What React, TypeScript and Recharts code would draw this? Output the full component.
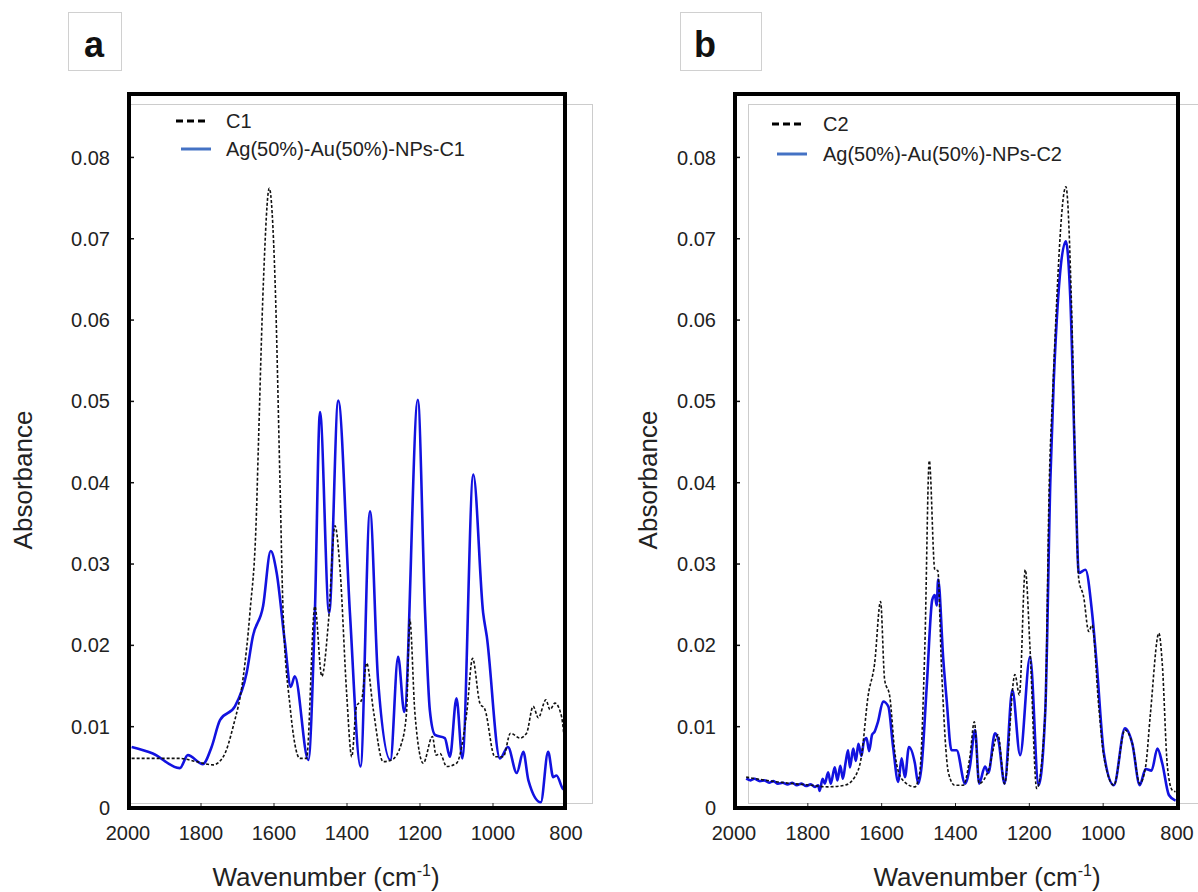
import React from 'react';
import { LineChart, Line, XAxis, YAxis } from 'recharts';

// axis ticks
const WN_TICKS = [2000, 1800, 1600, 1400, 1200, 1000, 800];
const ABS_TICKS = [0, 0.01, 0.02, 0.03, 0.04, 0.05, 0.06, 0.07, 0.08];

// panel a: C1 (dashed)
const c1Wn = [1990, 1858, 1812, 1767, 1739, 1712, 1684, 1666, 1648, 1643, 1629, 1613, 1597, 1584, 1575, 1556, 1529, 1511, 1488, 1469, 1451, 1433, 1419, 1401, 1387, 1374, 1360, 1346, 1328, 1301, 1278, 1251, 1237, 1228, 1214, 1191, 1166, 1156, 1145, 1127, 1100, 1072, 1056, 1036, 1022, 995, 972, 952, 926, 908, 890, 876, 855, 844, 830, 812, 803];
const c1Abs = [0.0061, 0.0061, 0.0057, 0.0053, 0.0063, 0.01, 0.0162, 0.024, 0.0364, 0.0442, 0.0647, 0.0762, 0.0647, 0.0408, 0.024, 0.0125, 0.0061, 0.0061, 0.0248, 0.0162, 0.0228, 0.0347, 0.0293, 0.0141, 0.0063, 0.0125, 0.0133, 0.0178, 0.0121, 0.0057, 0.0059, 0.0079, 0.0117, 0.0232, 0.0117, 0.0055, 0.0088, 0.0065, 0.0067, 0.0051, 0.0055, 0.0117, 0.0184, 0.0129, 0.0121, 0.0063, 0.0063, 0.0092, 0.0086, 0.0092, 0.0125, 0.0111, 0.0133, 0.0121, 0.0129, 0.0112, 0.0075];

// panel a: Ag(50%)-Au(50%)-NPs-C1
const np1Wn = [1990, 1932, 1858, 1836, 1795, 1771, 1748, 1707, 1675, 1658, 1630, 1609, 1593, 1570, 1554, 1543, 1506, 1488, 1474, 1449, 1424, 1392, 1363, 1337, 1315, 1281, 1260, 1243, 1206, 1186, 1173, 1159, 1132, 1118, 1100, 1084, 1054, 1027, 1017, 981, 959, 935, 917, 903, 869, 849, 835, 826, 809, 801];
const np1Abs = [0.0075, 0.0067, 0.0049, 0.0065, 0.0054, 0.0075, 0.0108, 0.0125, 0.0166, 0.0211, 0.0248, 0.0316, 0.029, 0.0203, 0.0149, 0.0162, 0.0059, 0.024, 0.0487, 0.024, 0.0501, 0.024, 0.0051, 0.0365, 0.0158, 0.0059, 0.0186, 0.0118, 0.0502, 0.024, 0.012, 0.009, 0.0086, 0.0063, 0.0135, 0.0061, 0.041, 0.024, 0.0211, 0.0061, 0.0075, 0.0043, 0.0069, 0.0034, 0.0007, 0.0069, 0.0038, 0.004, 0.0024, 0.0022];

// panel b: C2 (dashed)
const c2Wn = [1967, 1881, 1791, 1746, 1700, 1673, 1655, 1637, 1619, 1603, 1592, 1578, 1564, 1546, 1510, 1497, 1483, 1471, 1456, 1448, 1438, 1419, 1402, 1379, 1361, 1349, 1336, 1311, 1285, 1267, 1239, 1227, 1211, 1198, 1180, 1157, 1146, 1137, 1101, 1085, 1075, 1066, 1053, 1039, 1030, 1012, 998, 971, 941, 921, 901, 885, 872, 849, 840, 826, 813, 804];
const c2Abs = [0.0038, 0.0032, 0.0028, 0.0026, 0.0028, 0.0038, 0.0063, 0.0137, 0.0178, 0.0254, 0.0158, 0.0137, 0.0067, 0.0036, 0.0026, 0.0043, 0.0199, 0.0427, 0.0293, 0.0292, 0.0174, 0.0043, 0.0028, 0.0028, 0.0063, 0.0106, 0.003, 0.0046, 0.009, 0.003, 0.0164, 0.0139, 0.0293, 0.0195, 0.0024, 0.0117, 0.04, 0.0507, 0.0764, 0.0606, 0.0404, 0.0281, 0.026, 0.0217, 0.0225, 0.0125, 0.0063, 0.0028, 0.0096, 0.0079, 0.003, 0.0051, 0.0116, 0.0215, 0.0178, 0.0051, 0.0022, 0.002];

// panel b: Ag(50%)-Au(50%)-NPs-C2 (noisy below 1780)
const np2Wn = [1967, 1955, 1945, 1930, 1918, 1905, 1893, 1881, 1868, 1855, 1842, 1830, 1817, 1805, 1792, 1780, 1772, 1768, 1760, 1754, 1745, 1738, 1727, 1720, 1712, 1705, 1698, 1691, 1686, 1677, 1670, 1663, 1655, 1648, 1641, 1634, 1626, 1619, 1610, 1596, 1582, 1569, 1555, 1546, 1537, 1526, 1510, 1501, 1492, 1478, 1463, 1456, 1451, 1447, 1433, 1424, 1411, 1397, 1374, 1361, 1347, 1336, 1320, 1311, 1293, 1284, 1267, 1246, 1225, 1198, 1175, 1157, 1143, 1134, 1101, 1089, 1075, 1066, 1048, 1030, 1017, 998, 971, 941, 921, 901, 885, 869, 853, 840, 822, 804];
const np2Abs = [0.0036, 0.0034, 0.0036, 0.0033, 0.0034, 0.0031, 0.0033, 0.003, 0.0031, 0.0029, 0.0031, 0.0028, 0.003, 0.0027, 0.0029, 0.0026, 0.0028, 0.0021, 0.0036, 0.003, 0.0044, 0.003, 0.005, 0.0034, 0.0052, 0.0036, 0.0055, 0.0071, 0.005, 0.0073, 0.0058, 0.0079, 0.0064, 0.0082, 0.0086, 0.007, 0.009, 0.0094, 0.0106, 0.0131, 0.0125, 0.0075, 0.0032, 0.0061, 0.0038, 0.0075, 0.0055, 0.003, 0.0051, 0.0149, 0.0256, 0.0262, 0.0249, 0.0281, 0.0182, 0.0133, 0.0071, 0.0071, 0.003, 0.0051, 0.0096, 0.003, 0.0051, 0.0043, 0.0092, 0.0084, 0.003, 0.0145, 0.0065, 0.0186, 0.0028, 0.0117, 0.0404, 0.0524, 0.0697, 0.0627, 0.0404, 0.0289, 0.0293, 0.024, 0.0174, 0.0067, 0.0028, 0.0098, 0.0079, 0.0028, 0.0048, 0.0046, 0.0073, 0.0055, 0.0016, 0.0009];

const zip = (wn: number[], abs: number[]) => wn.map((w, i) => ({ wn: w, abs: abs[i] }));

const W = 1198;
const H = 892;
const PLOT_TOP = 94;
const PLOT_BOTTOM = 808;
const Y_AXIS_W = 60;
const X_AXIS_H = 40;
const FONT = '"Liberation Sans", Arial, sans-serif';

interface PanelProps {
  tag: string;
  tagBox: { left: number; width: number; pad: number };
  plotLeft: number;
  plotRight: number;
  frame: { left: number; right: number };
  gray: { left: number; right: number };
  legend: { dashLeft: number; lineLeft: number; textLeft: number; y1: number; y2: number };
  refName: string;
  npName: string;
  refData: { wn: number; abs: number }[];
  npData: { wn: number; abs: number }[];
  yTitleX: number;
  xTitleX: number;
}

function SpectrumPanel(p: PanelProps) {
  const tickStyle = { fontSize: 20, fill: '#222', fontFamily: FONT };
  return (
    <>
      <div style={{ position: 'absolute', left: p.gray.left, top: 104, width: p.gray.right - p.gray.left, height: 698, border: '1px solid #cccccc' }} />
      <LineChart
        width={W}
        height={H}
        style={{ position: 'absolute', left: 0, top: 0 }}
        margin={{ top: PLOT_TOP, bottom: H - PLOT_BOTTOM - X_AXIS_H, left: p.plotLeft - Y_AXIS_W, right: W - p.plotRight }}
      >
        <XAxis
          type="number"
          dataKey="wn"
          domain={[800, 2000]}
          reversed
          ticks={WN_TICKS}
          interval={0}
          height={X_AXIS_H}
          axisLine={false}
          tickSize={-5}
          tickMargin={23}
          tickLine={{ stroke: '#222' }}
          tick={tickStyle}
          allowDataOverflow
        />
        <YAxis
          type="number"
          domain={[0, 0.0878]}
          ticks={ABS_TICKS}
          interval={0}
          width={Y_AXIS_W}
          axisLine={false}
          tickSize={-6}
          tickMargin={24}
          tickLine={{ stroke: '#111', strokeWidth: 1.5 }}
          tick={tickStyle}
          tickFormatter={(v: number) => (v === 0 ? '0' : v.toFixed(2))}
          allowDataOverflow
        />
        <Line data={p.npData} dataKey="abs" type="monotone" stroke="#1212e0" strokeWidth={2.6} dot={false} isAnimationActive={false} />
        <Line data={p.refData} dataKey="abs" type="monotone" stroke="#111" strokeWidth={1.6} strokeDasharray="3 2" dot={false} isAnimationActive={false} />
      </LineChart>
      <div style={{ position: 'absolute', left: p.frame.left, top: 92, width: p.frame.right - p.frame.left, height: 718, border: '4px solid #000', boxSizing: 'border-box' }} />
      <div style={{ position: 'absolute', left: p.tagBox.left, top: 12, width: p.tagBox.width, height: 59, border: '1px solid #d0d0d0', boxSizing: 'border-box' }}>
        <div style={{ position: 'absolute', left: p.tagBox.pad, top: 14, fontSize: 36, lineHeight: '36px', fontWeight: 'bold', fontFamily: FONT, color: '#111' }}>{p.tag}</div>
      </div>
      <svg style={{ position: 'absolute', left: 0, top: 0 }} width={W} height={200}>
        <line x1={p.legend.dashLeft} x2={p.legend.dashLeft + 29} y1={p.legend.y1} y2={p.legend.y1} stroke="#000" strokeWidth={3} strokeDasharray="7 4" />
        <line x1={p.legend.lineLeft} x2={p.legend.lineLeft + 30} y1={p.legend.y2} y2={p.legend.y2} stroke="#4472c4" strokeWidth={3} />
      </svg>
      <div style={{ position: 'absolute', left: p.legend.textLeft, top: p.legend.y1 - 12, fontSize: 20, lineHeight: '24px', fontFamily: FONT, color: '#222', whiteSpace: 'nowrap' }}>{p.refName}</div>
      <div style={{ position: 'absolute', left: p.legend.textLeft, top: p.legend.y2 - 12, fontSize: 20, lineHeight: '24px', fontFamily: FONT, color: '#222', whiteSpace: 'nowrap' }}>{p.npName}</div>
      <div style={{ position: 'absolute', left: p.yTitleX, top: 480, fontSize: 26, lineHeight: '30px', fontFamily: FONT, color: '#222', whiteSpace: 'nowrap', transform: 'translate(-50%, -50%) rotate(-90deg)' }}>Absorbance</div>
      <div style={{ position: 'absolute', left: p.xTitleX, top: 862, fontSize: 26, lineHeight: '30px', fontFamily: FONT, color: '#222', whiteSpace: 'nowrap', transform: 'translateX(-50%)' }}>
        Wavenumber (cm<sup style={{ fontSize: 16, verticalAlign: 'top', lineHeight: '18px' }}>-1</sup>)
      </div>
    </>
  );
}

export default function App() {
  return (
    <div style={{ position: 'absolute', left: 0, top: 0, width: W, height: H, background: '#fff', overflow: 'hidden', fontFamily: FONT }}>
      <SpectrumPanel
        tag="a"
        tagBox={{ left: 68, width: 54, pad: 15 }}
        plotLeft={128}
        plotRight={566}
        frame={{ left: 127, right: 567 }}
        gray={{ left: 129, right: 591 }}
        legend={{ dashLeft: 176, lineLeft: 181, textLeft: 226, y1: 121, y2: 149 }}
        refName="C1"
        npName="Ag(50%)-Au(50%)-NPs-C1"
        refData={zip(c1Wn, c1Abs)}
        npData={zip(np1Wn, np1Abs)}
        yTitleX={23}
        xTitleX={326}
      />
      <SpectrumPanel
        tag="b"
        tagBox={{ left: 680, width: 82, pad: 13 }}
        plotLeft={734}
        plotRight={1177}
        frame={{ left: 733, right: 1180 }}
        gray={{ left: 748, right: 1260 }}
        legend={{ dashLeft: 772, lineLeft: 777, textLeft: 823, y1: 124, y2: 154 }}
        refName="C2"
        npName="Ag(50%)-Au(50%)-NPs-C2"
        refData={zip(c2Wn, c2Abs)}
        npData={zip(np2Wn, np2Abs)}
        yTitleX={648}
        xTitleX={987}
      />
    </div>
  );
}
